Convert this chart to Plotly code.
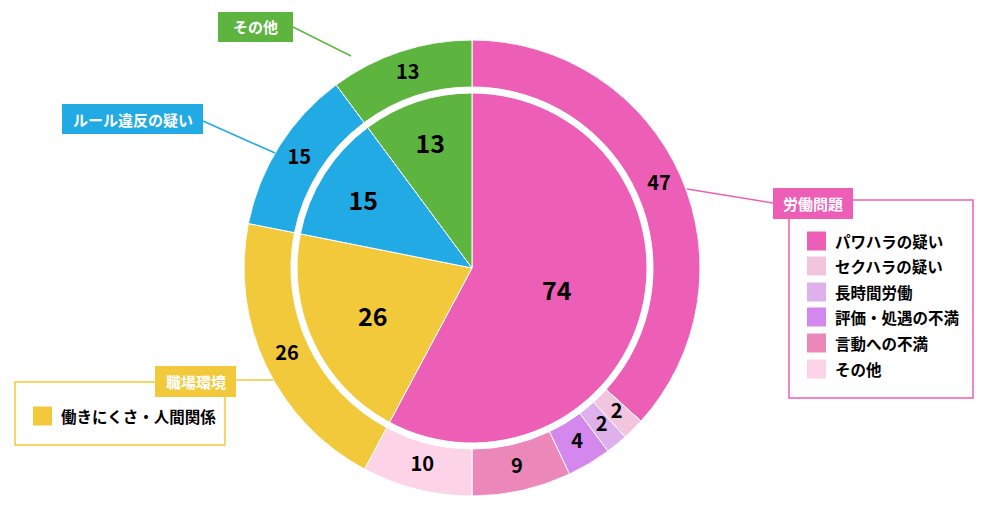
import plotly.graph_objects as go

# ---- data ----
inner_labels = ["労働問題", "職場環境", "ルール違反の疑い", "その他"]
inner_values = [74, 26, 15, 13]
inner_colors = ["#ED5FB6", "#F2C93B", "#21AAE4", "#5DB53F"]

outer_labels = ["パワハラの疑い", "セクハラの疑い", "長時間労働", "評価・処遇の不満",
                "言動への不満", "その他(労働問題)", "働きにくさ・人間関係",
                "ルール違反の疑い", "その他"]
outer_values = [47, 2, 2, 4, 9, 10, 26, 15, 13]
outer_colors = ["#ED5FB6", "#F2C4DE", "#DEB0EC", "#D487EC", "#EC88B9", "#FDD3E7",
                "#F2C93B", "#21AAE4", "#5DB53F"]

labor_legend = ["パワハラの疑い", "セクハラの疑い", "長時間労働", "評価・処遇の不満", "言動への不満", "その他"]
labor_legend_colors = outer_colors[:6]
work_legend = ["働きにくさ・人間関係"]

FONT = "Noto Sans CJK JP"

# page body has an 8px margin; the figure fills the rest of the 989x523 window
OFF = 8
W, H = 989 - 2 * OFF, 523 - 2 * OFF


def px(x):
    return (x - OFF) / W


def py(y):
    return 1 - (y - OFF) / H


cx, cy = 472, 268
R_out, R_in = 228, 175
hole = 181 / 228

# angular geometry of the outer ring, derived from the data
total = sum(outer_values)
cum = 0
mids, widths = [], []
for v in outer_values:
    widths.append(v / total * 360)
    mids.append((cum + v / 2) / total * 360)
    cum += v

fig = go.Figure()

fig.add_trace(go.Barpolar(
    r=[1 - hole] * len(outer_values), base=[hole] * len(outer_values),
    theta=mids, width=widths,
    marker=dict(color=outer_colors, line=dict(color="white", width=1)),
    hoverinfo="skip", showlegend=False,
))
fig.add_trace(go.Scatterpolar(
    r=[(1 + hole) / 2] * len(outer_values), theta=mids, mode="text",
    text=[str(v) for v in outer_values],
    textfont=dict(family=FONT, size=20, color="black", weight=700),
    hoverinfo="skip", showlegend=False,
))

fig.add_trace(go.Pie(
    labels=inner_labels, values=inner_values, sort=False, direction="clockwise",
    rotation=0,
    marker=dict(colors=inner_colors, line=dict(color="white", width=1)),
    textinfo="value", textposition="inside", insidetextorientation="horizontal",
    textfont=dict(family=FONT, size=25, color="black", weight=700),
    domain=dict(x=[px(cx - R_in), px(cx + R_in)], y=[py(cy + R_in), py(cy - R_in)]),
    hoverinfo="skip", showlegend=False,
))

shapes = []
annotations = []


def label_box(x0, y0, x1, y1, color, text):
    shapes.append(dict(type="rect", xref="paper", yref="paper", x0=px(x0), x1=px(x1),
                       y0=py(y1), y1=py(y0), fillcolor=color, line=dict(width=0), layer="above"))
    annotations.append(dict(xref="paper", yref="paper", x=px((x0 + x1) / 2), y=py((y0 + y1) / 2),
                            text=text, showarrow=False, xanchor="center", yanchor="middle",
                            font=dict(family=FONT, size=15, color="white", weight=700)))


def line(x0, y0, x1, y1, color):
    shapes.append(dict(type="line", xref="paper", yref="paper", x0=px(x0), y0=py(y0),
                       x1=px(x1), y1=py(y1), line=dict(color=color, width=1.5), layer="above"))


def outline(x0, y0, x1, y1, color):
    shapes.append(dict(type="rect", xref="paper", yref="paper", x0=px(x0), x1=px(x1),
                       y0=py(y1), y1=py(y0), fillcolor="rgba(0,0,0,0)",
                       line=dict(color=color, width=1.5), layer="above"))


def legend_item(x, y, color, text):
    shapes.append(dict(type="rect", xref="paper", yref="paper", x0=px(x), x1=px(x + 19),
                       y0=py(y + 9.5), y1=py(y - 9.5), fillcolor=color, line=dict(width=0), layer="above"))
    annotations.append(dict(xref="paper", yref="paper", x=px(x + 26), y=py(y), text=text,
                            showarrow=False, xanchor="left", yanchor="middle",
                            font=dict(family=FONT, size=15.5, color="black", weight=700)))


# その他 (green)
line(293, 27, 351, 56, inner_colors[3])
label_box(218, 12, 293, 42, inner_colors[3], "その他")

# ルール違反の疑い (blue)
line(203, 121, 275, 153, inner_colors[2])
label_box(62, 104, 203, 134, inner_colors[2], "ルール違反の疑い")

# 職場環境 (yellow)
outline(15, 382, 225, 445, inner_colors[1])
line(236, 380, 273, 380, inner_colors[1])
label_box(155, 366, 236, 397, inner_colors[1], "職場環境")
legend_item(33, 416, inner_colors[1], work_legend[0])

# 労働問題 (pink)
outline(789, 200, 973, 398, inner_colors[0])
line(687, 189, 773, 203, inner_colors[0])
label_box(773, 188, 853, 219, inner_colors[0], "労働問題")
ys = [241, 266, 292, 317, 343, 369]
for yy, c, t in zip(ys, labor_legend_colors, labor_legend):
    legend_item(807, yy, c, t)

fig.update_layout(
    width=W, height=H, margin=dict(l=0, r=0, t=0, b=0),
    paper_bgcolor="white", plot_bgcolor="white",
    polar=dict(
        domain=dict(x=[px(cx - R_out), px(cx + R_out)], y=[py(cy + R_out), py(cy - R_out)]),
        bgcolor="rgba(0,0,0,0)",
        radialaxis=dict(visible=False, range=[0, 1]),
        angularaxis=dict(visible=False, rotation=90, direction="clockwise",
                         showgrid=False, showline=False),
    ),
    shapes=shapes, annotations=annotations,
    font=dict(family=FONT),
)

fig.write_html("out.html")
